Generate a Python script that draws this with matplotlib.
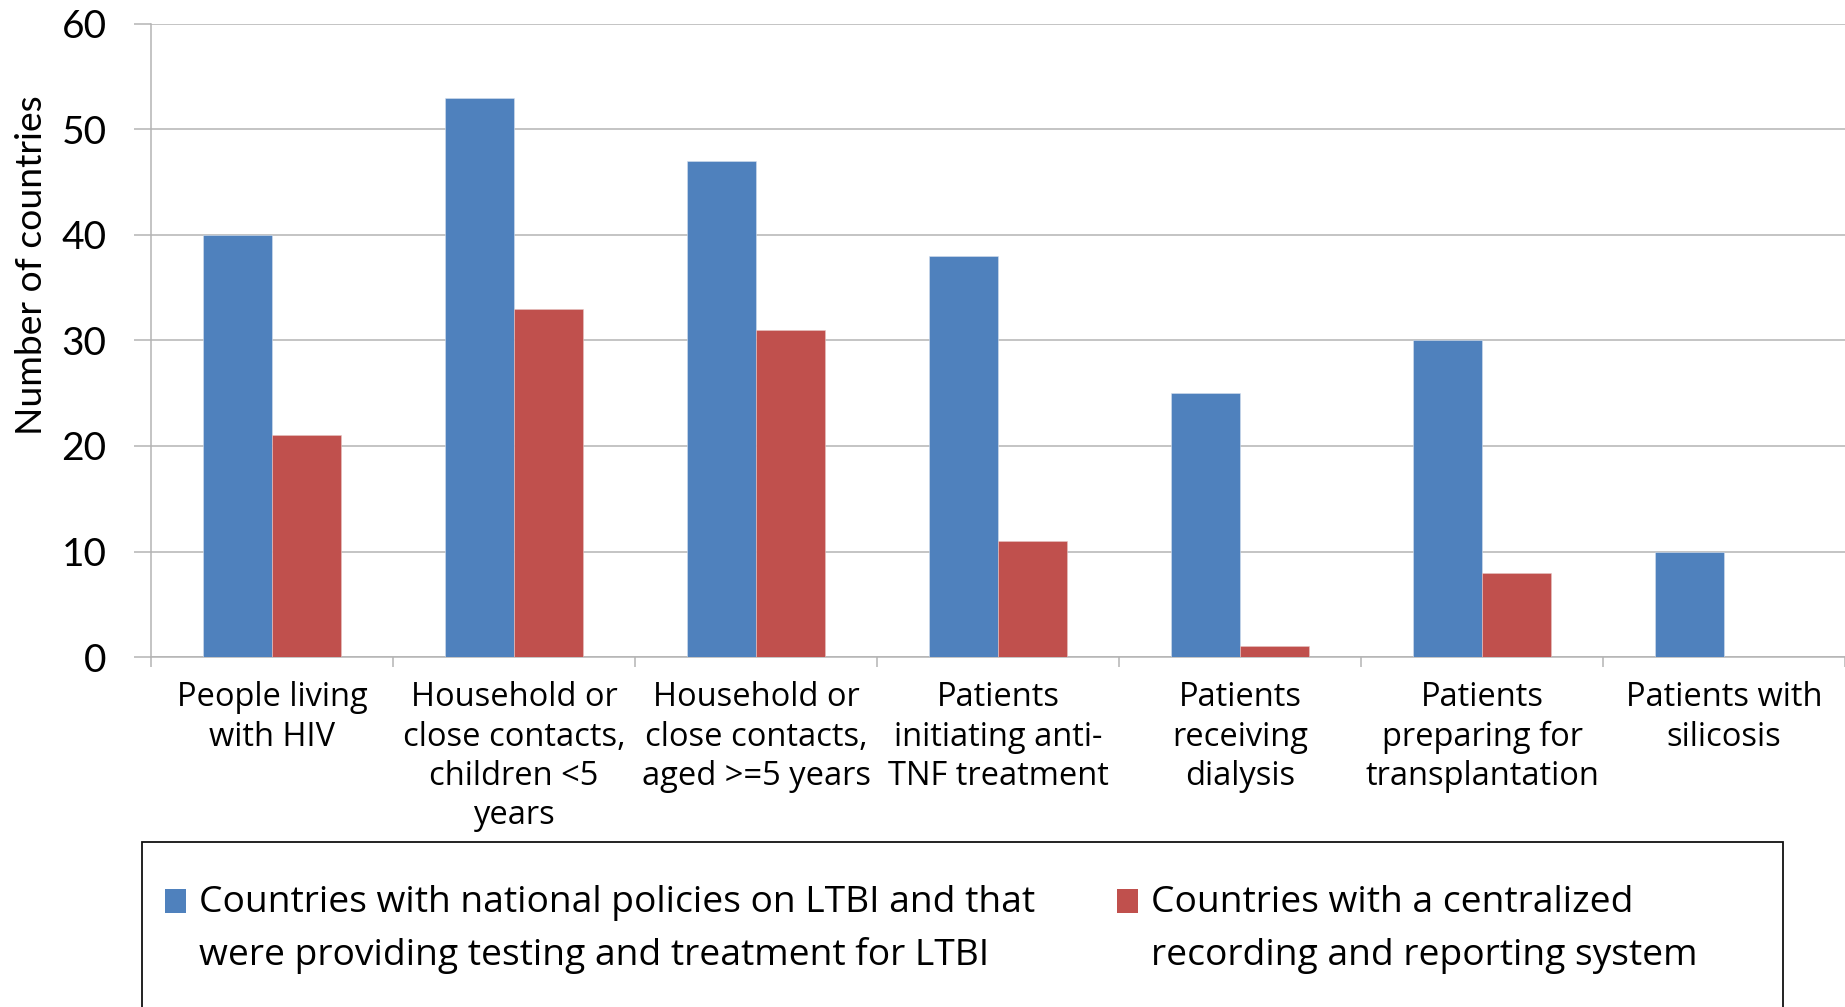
import matplotlib
matplotlib.use("Agg")
import matplotlib.pyplot as plt
from matplotlib.patches import Rectangle
import numpy as np

categories = [
    "People living\nwith HIV",
    "Household or\nclose contacts,\nchildren <5\nyears",
    "Household or\nclose contacts,\naged >=5 years",
    "Patients\ninitiating anti-\nTNF treatment",
    "Patients\nreceiving\ndialysis",
    "Patients\npreparing for\ntransplantation",
    "Patients with\nsilicosis",
]
series_names = [
    "Countries with national policies on LTBI and that\nwere providing testing and treatment for LTBI",
    "Countries with a centralized\nrecording and reporting system",
]
policies = [40, 53, 47, 38, 25, 30, 10]
recording = [21, 33, 31, 11, 1, 8, 0]
yticks = [0, 10, 20, 30, 40, 50, 60]
ylabel = "Number of countries"

colors = ["#4F81BD", "#C0504D"]
grid_c = "#B4B4B4"

W, H = 1845, 1007
fig = plt.figure(figsize=(W / 100, H / 100), dpi=100)
ax = fig.add_axes([151 / W, 1 - 657 / H, (W - 151) / W, (657 - 24) / H])

x = np.arange(len(categories))
bw = 1 / 3.5
ax.bar(x - bw / 2, policies, width=bw, color=colors[0], edgecolor="#d6e0ee", linewidth=0.4, zorder=3)
ax.bar(x + bw / 2, recording, width=bw, color=colors[1], edgecolor="#e6c4c3", linewidth=0.4, zorder=3)

ax.set_xlim(-0.5, len(categories) - 0.5)
ax.set_ylim(0, 60)
ax.set_yticks(yticks)
ax.set_yticklabels([str(v) for v in yticks], fontfamily="Lato", fontsize=28)
ax.yaxis.grid(True, color=grid_c, linewidth=1.1, zorder=0)
ax.set_axisbelow(True)

for s in ["top", "right"]:
    ax.spines[s].set_visible(False)
for s in ["left", "bottom"]:
    ax.spines[s].set_color(grid_c)
    ax.spines[s].set_linewidth(1.1)

ax.tick_params(axis="y", length=12, width=1.1, color=grid_c, pad=20, labelcolor="#000000")

ax.set_xticks(x)
ax.set_xticklabels(categories, fontfamily="Open Sans", fontsize=23.5, linespacing=1.25)
ax.tick_params(axis="x", which="major", length=0, pad=17.5)
ax.set_xticks(np.arange(-0.5, len(categories), 1.0), minor=True)
ax.tick_params(axis="x", which="minor", length=7.5, width=1.1, color=grid_c)

ax.set_ylabel(ylabel, fontfamily="Lato", fontsize=26.8, va="center")
ax.yaxis.set_label_coords(-0.0708, 0.619)

# legend box
fig.patches.append(Rectangle((142 / W, -0.02), (1783 - 142) / W, 0.02 + 1 - 842 / H,
                             transform=fig.transFigure, fill=False, edgecolor="#111111",
                             linewidth=1.3))
lx = [165, 1117]
tx = [199, 1151]
line_y = [903, 956]
for i in range(2):
    fig.patches.append(Rectangle((lx[i] / W, 1 - 913 / H), 21 / W, 24 / H,
                                 transform=fig.transFigure, facecolor=colors[i],
                                 edgecolor="none"))
    for j, line in enumerate(series_names[i].split("\n")):
        fig.text(tx[i] / W, 1 - line_y[j] / H, line, fontfamily="Open Sans", fontsize=26.8,
                 va="center", ha="left")

fig.savefig("out.png", dpi=100)
